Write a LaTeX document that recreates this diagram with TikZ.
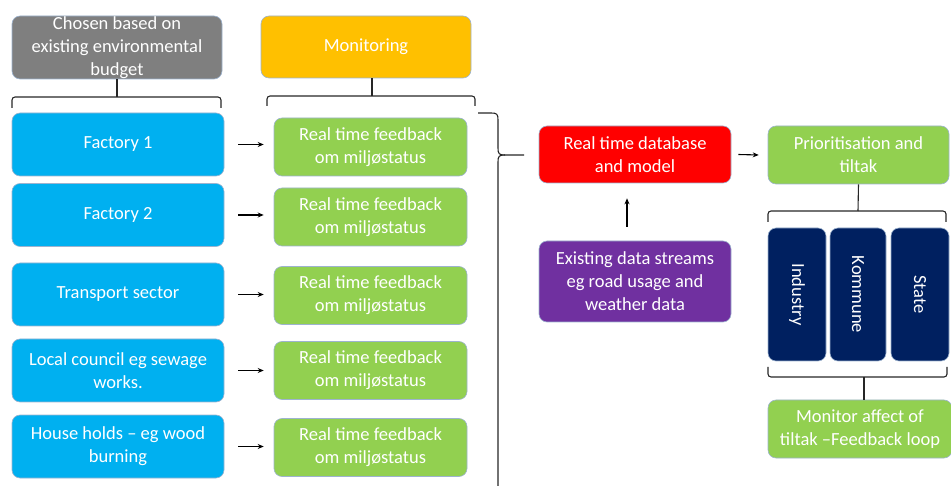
\documentclass[tikz,border=0pt]{standalone}
\usepackage{fontspec}
\setmainfont{Carlito}
\usetikzlibrary{arrows.meta}
\definecolor{cgray}{HTML}{7F7F7F}
\definecolor{cyellow}{HTML}{FFC000}
\definecolor{cblue}{HTML}{00B0F0}
\definecolor{cgreen}{HTML}{92D050}
\definecolor{cred}{HTML}{FF0000}
\definecolor{cpurple}{HTML}{7030A0}
\definecolor{cnavy}{HTML}{002060}
\definecolor{cedge}{HTML}{9DB3CF}
\begin{document}
\begin{tikzpicture}[x=1pt,y=-1pt,
  box/.style={draw=cedge,line width=0.6pt,rounded corners=8pt,text=white,align=center,
    font=\fontsize{18.5}{23}\selectfont,inner sep=0pt},
  arr/.style={-{Stealth[length=6pt,width=5pt]},line width=1.1pt,black},
  brk/.style={line width=1.1pt,draw=black!85,rounded corners=3pt}]
\useasboundingbox (0,0) rectangle (951,486);
% top headers
\node[box,fill=cgray,minimum width=210pt,minimum height=63pt] (gray) at (117,47.5) {Chosen based on\\existing environmental\\budget};
\node[box,fill=cyellow,minimum width=210pt,minimum height=62pt] (mon) at (366,47) {Monitoring};
% blue sources
\foreach \n/\y/\t in {f1/144.5/Factory 1, f2/215/Factory 2, tr/294.5/Transport sector,
   lc/370.5/{Local council eg sewage\\works.}, hh/446.5/{House holds -- eg wood\\burning}}{
  \node[box,fill=cblue,minimum width=212pt,minimum height=63pt] (\n) at (118,\y) {\t};
}
% green feedback
\foreach \n/\y in {g1/147, g2/217, g3/295.5, g4/370.5, g5/447.5}{
  \node[box,fill=cgreen,minimum width=193pt,minimum height=58pt] (\n) at (370.5,\y) {Real time feedback\\om miljøstatus};
}
\foreach \a/\b in {f1/g1, f2/g2, tr/g3, lc/g4, hh/g5}{
  \draw[arr] ([xshift=14pt]\a.east) -- ([xshift=-10pt]\b.west |- \a.east);
}
% brackets top-left
\draw[brk] (gray.south) -- (117,97);
\draw[brk] (12,108) -- (12,97) -- (221,97) -- (221,108);
\draw[brk] (mon.south -| 372,0) -- (372,96);
\draw[brk] (267,106) -- (267,96) -- (475,96) -- (475,106);
% central database
\node[box,fill=cred,minimum width=192pt,minimum height=57pt] (db) at (635,154.5) {Real time database\\and model};
\node[box,fill=cpurple,minimum width=192pt,minimum height=81pt] (ex) at (635,281.5) {Existing data streams\\eg road usage and\\weather data};
\draw[arr] ([yshift=14pt]ex.north -| 627,0) -- ([yshift=-15pt]db.south -| 627,0);
% big right brace
\coordinate (bt) at (524,155);
\draw[line width=1.1pt,black!85] (478,113) -- (491,113) .. controls (497,113) and (498,114) .. (498,120)
  -- (498,148) .. controls (498,154) and (499,155) .. (505,155) -- (bt);
\draw[line width=1.1pt,black!85] (505,155) .. controls (499,155) and (498,156) .. (498,162) -- (498,486);
% prioritisation
\node[box,fill=cgreen,minimum width=181pt,minimum height=58pt] (pr) at (858.5,155) {Prioritisation and\\tiltak};
\draw[arr] ([xshift=7pt]db.east) -- ([xshift=-9pt]pr.west);
\draw[brk] (pr.south) -- (858,211);
\draw[brk] (768,222) -- (768,211) -- (946,211) -- (946,222);
\node[box,fill=cnavy,minimum width=58pt,minimum height=133pt] (ind) at (797,294.5) {\rotatebox{-90}{Industry}};
\node[box,fill=cnavy,minimum width=56pt,minimum height=133pt] (kom) at (858,294.5) {\rotatebox{-90}{Kommune}};
\node[box,fill=cnavy,minimum width=58pt,minimum height=133pt] (sta) at (920,294.5) {\rotatebox{-90}{State}};
\node[box,fill=cgreen,minimum width=184pt,minimum height=58pt] (fb) at (860,429) {Monitor affect of\\tiltak --Feedback loop};
\draw[brk] (768,367) -- (768,377) -- (947,377) -- (947,367);
\draw[brk] (864,377) -- (fb.north -| 864,0);
\end{tikzpicture}
\end{document}
